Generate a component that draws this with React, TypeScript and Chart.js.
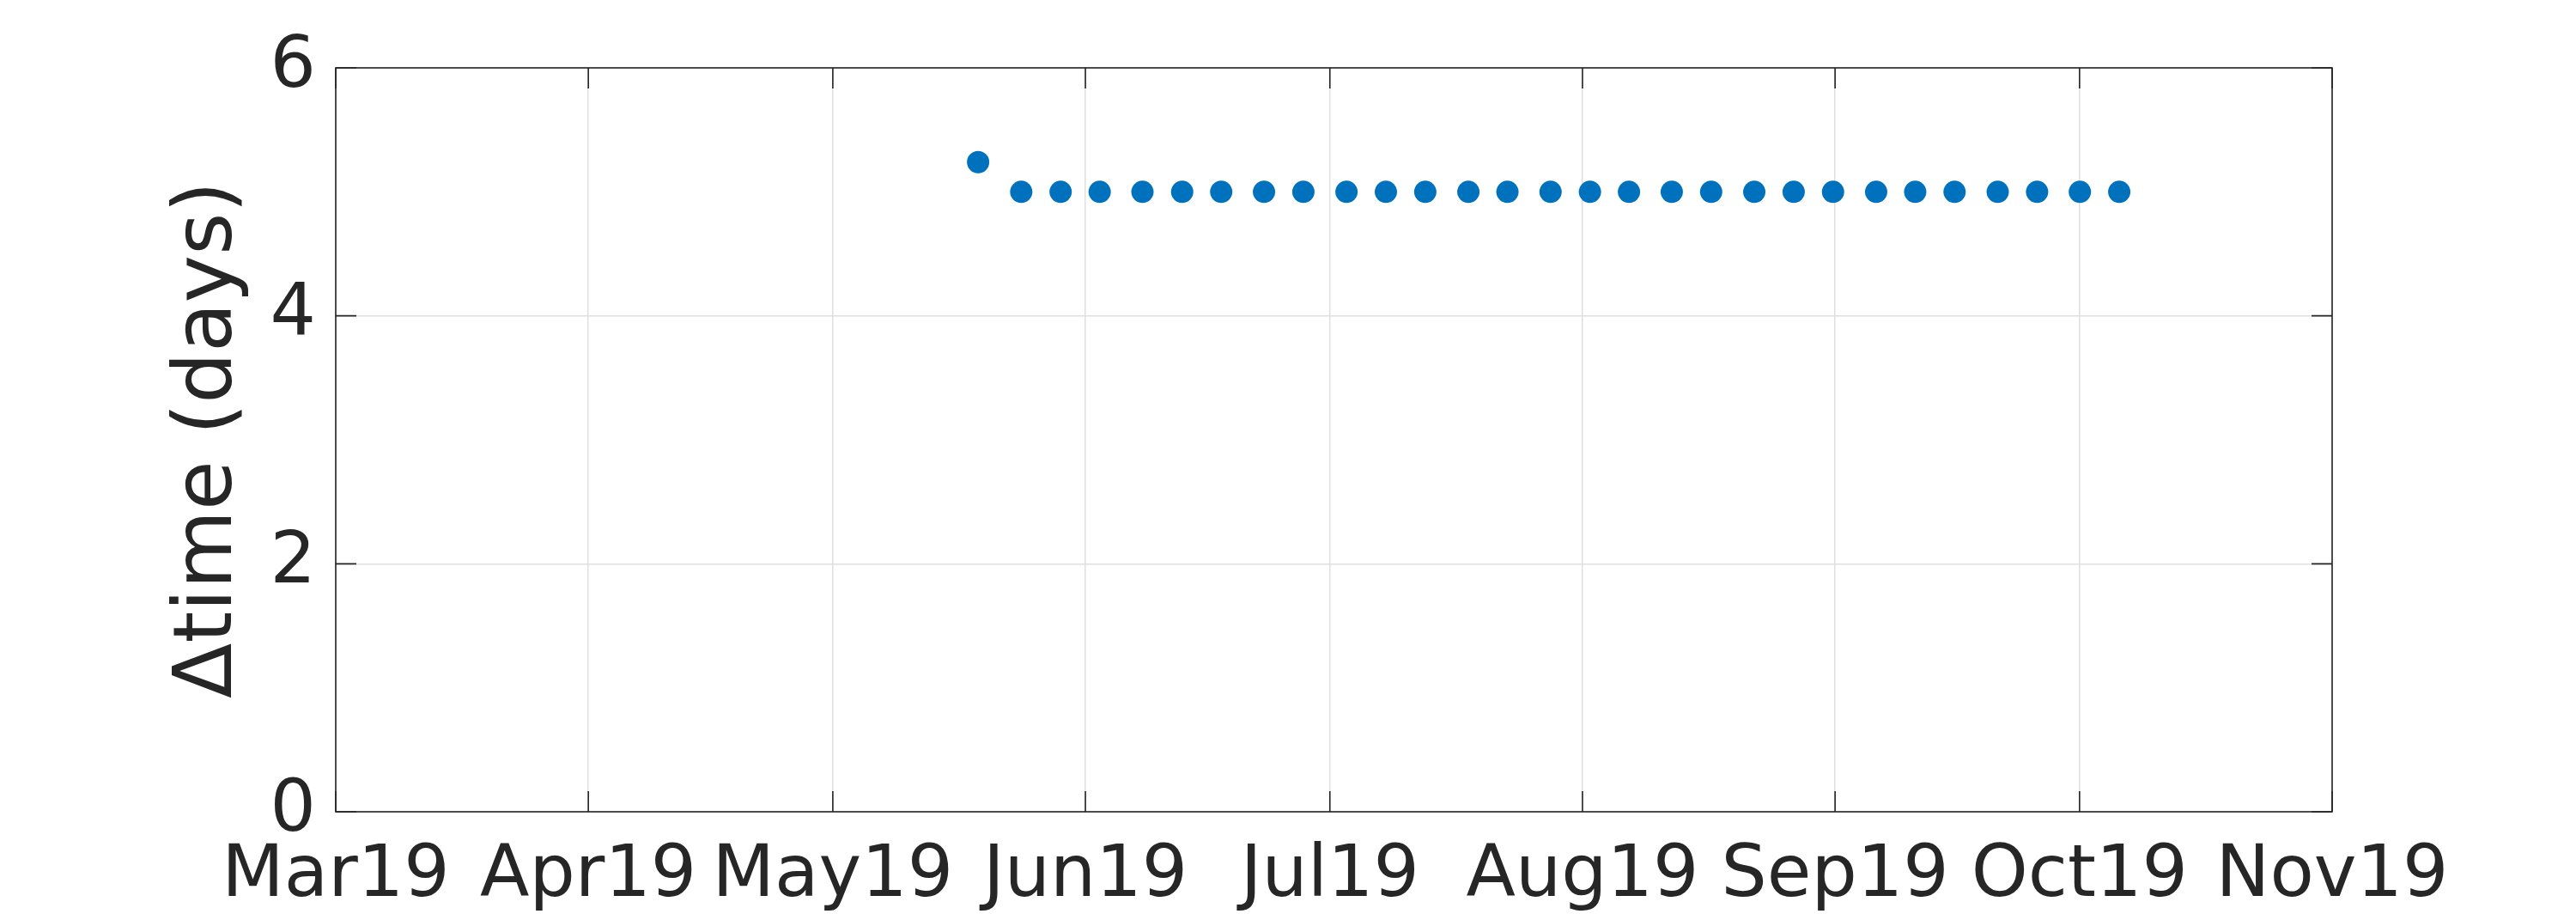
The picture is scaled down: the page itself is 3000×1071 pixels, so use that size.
import React, { useEffect, useRef } from "react";
import { Chart, registerables } from "chart.js";

Chart.register(...registerables);

// Observation dates (x) and the time gap in days (y)
const pointDates: string[] = [
  "2019-05-18T20:00", "2019-05-24T03:00", "2019-05-28T23:00", "2019-06-02T18:00",
  "2019-06-08T00:00", "2019-06-12T21:00", "2019-06-17T16:00", "2019-06-22T22:00",
  "2019-06-27T18:00", "2019-07-03T01:00", "2019-07-07T21:00", "2019-07-12T17:00",
  "2019-07-18T00:00", "2019-07-22T19:00", "2019-07-28T02:00", "2019-08-01T22:00",
  "2019-08-06T17:00", "2019-08-11T23:00", "2019-08-16T19:00", "2019-08-22T02:00",
  "2019-08-26T22:00", "2019-08-31T18:00", "2019-09-06T01:00", "2019-09-10T20:00",
  "2019-09-15T16:00", "2019-09-20T23:00", "2019-09-25T19:00", "2019-10-01T01:00",
  "2019-10-05T21:00",
];
const deltaDays: number[] = [
  5.24, 5, 5, 5, 5, 5, 5, 5, 5, 5, 5, 5, 5, 5, 5, 5, 5, 5, 5, 5, 5, 5, 5, 5, 5, 5, 5, 5, 5,
];

const xTickDates: string[] = [
  "2019-03-01T00:00", "2019-04-01T00:00", "2019-05-01T00:00", "2019-06-01T00:00",
  "2019-07-01T00:00", "2019-08-01T00:00", "2019-09-01T00:00", "2019-10-01T00:00",
  "2019-11-01T00:00",
];
const xTickLabels: string[] = [
  "Mar19", "Apr19", "May19", "Jun19", "Jul19", "Aug19", "Sep19", "Oct19", "Nov19",
];
const yTicks: number[] = [0, 2, 4, 6];
const yTitle = "\u0394time (days)";

const toMs = (s: string) => Date.parse(s + ":00Z");

const AXIS_COLOR = "#262626";
const GRID_COLOR = "#dfdfdf";
const MARKER_COLOR = "#0072BD";
const FONT = "'DejaVu Sans', sans-serif";

const boxPlugin = {
  id: "matlabBox",
  afterDatasetsDraw(chart: any) {
    const { ctx, chartArea, scales } = chart;
    const { left, right, top, bottom } = chartArea;
    const x = scales.x;
    const y = scales.y;
    const tl = 24;
    ctx.save();
    ctx.strokeStyle = AXIS_COLOR;
    ctx.lineWidth = 1.6;
    ctx.beginPath();
    x.ticks.forEach((t: any) => {
      const px = x.getPixelForValue(t.value);
      ctx.moveTo(px, bottom);
      ctx.lineTo(px, bottom - tl);
      ctx.moveTo(px, top);
      ctx.lineTo(px, top + tl);
    });
    y.ticks.forEach((t: any) => {
      const py = y.getPixelForValue(t.value);
      ctx.moveTo(left, py);
      ctx.lineTo(left + tl, py);
      ctx.moveTo(right, py);
      ctx.lineTo(right - tl, py);
    });
    ctx.stroke();
    ctx.strokeRect(left, top, right - left, bottom - top);
    ctx.restore();
  },
};

export default function App() {
  const canvasRef = useRef<HTMLCanvasElement | null>(null);

  useEffect(() => {
    const canvas = canvasRef.current;
    if (!canvas) return;
    const data = pointDates.map((d, i) => ({ x: toMs(d), y: deltaDays[i] }));
    const xTickValues = xTickDates.map(toMs);

    const chart = new Chart(canvas, {
      type: "scatter",
      data: {
        datasets: [
          {
            data,
            pointRadius: 13,
            pointHoverRadius: 13,
            pointStyle: "circle",
            backgroundColor: MARKER_COLOR,
            borderColor: MARKER_COLOR,
            borderWidth: 0,
            showLine: false,
          },
        ],
      },
      options: {
        responsive: false,
        devicePixelRatio: 1,
        animation: false,
        events: [],
        layout: { padding: { top: 79, right: 284, left: 0, bottom: 0 } },
        plugins: {
          legend: { display: false },
          tooltip: { enabled: false },
          title: { display: false },
        },
        scales: {
          x: {
            type: "linear",
            min: xTickValues[0],
            max: xTickValues[xTickValues.length - 1],
            afterBuildTicks: (scale: any) => {
              scale.ticks = xTickValues.map((v) => ({ value: v }));
            },
            afterFit: (scale: any) => {
              scale.height = 126;
            },
            ticks: {
              autoSkip: false,
              maxRotation: 0,
              minRotation: 0,
              padding: 26,
              color: AXIS_COLOR,
              font: { family: FONT, size: 84 },
              callback: (_v: any, i: number) => xTickLabels[i],
            },
            grid: {
              color: GRID_COLOR,
              lineWidth: 1.5,
              drawTicks: false,
            },
            border: { display: false },
          },
          y: {
            type: "linear",
            min: yTicks[0],
            max: yTicks[yTicks.length - 1],
            afterBuildTicks: (scale: any) => {
              scale.ticks = yTicks.map((v) => ({ value: v }));
            },
            afterFit: (scale: any) => {
              scale.width = 391;
            },
            ticks: {
              padding: 23,
              color: AXIS_COLOR,
              font: { family: FONT, size: 84 },
              callback: (v: any) => String(v),
            },
            grid: {
              color: GRID_COLOR,
              lineWidth: 1.5,
              drawTicks: false,
            },
            border: { display: false },
            title: {
              display: true,
              text: yTitle,
              color: AXIS_COLOR,
              font: { family: FONT, size: 94 },
              padding: { top: 188, bottom: 0 },
            },
          },
        },
      },
      plugins: [boxPlugin],
    } as any);

    return () => {
      chart.destroy();
    };
  }, []);

  return (
    <div
      style={{
        position: "absolute",
        left: 0,
        top: 0,
        width: 3000,
        height: 1071,
        background: "#ffffff",
      }}
    >
      <canvas ref={canvasRef} width={3000} height={1071} style={{ display: "block" }} />
    </div>
  );
}
